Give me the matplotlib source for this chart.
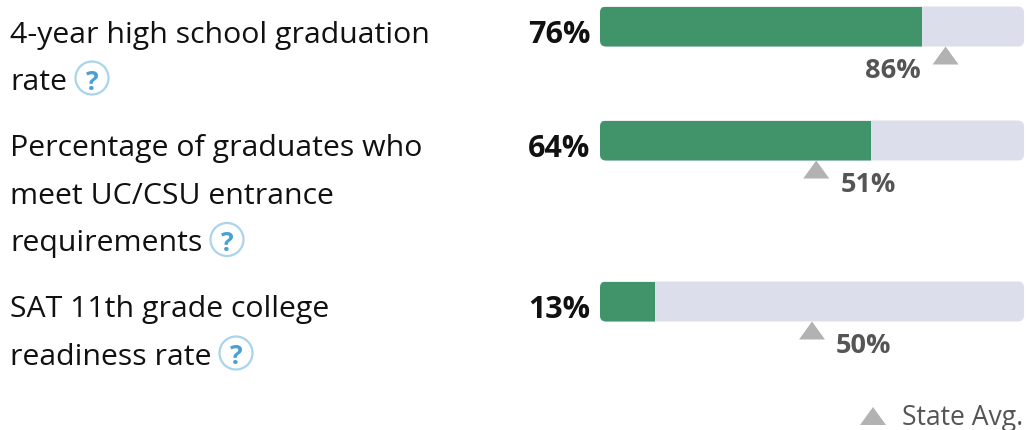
import matplotlib
matplotlib.use('Agg')

import matplotlib.pyplot as plt
from matplotlib.patches import FancyBboxPatch, Rectangle, Polygon, Circle

labels = [
    '4-year high school graduation\nrate',
    'Percentage of graduates who\nmeet UC/CSU entrance\nrequirements',
    'SAT 11th grade college\nreadiness rate',
]
school_values = [76, 64, 13]
state_values = [86, 51, 50]

GREEN = '#41936a'
TRACK = '#dcdeeb'
MARKER = '#b2b2b2'
LABEL_GREY = '#555555'
FONT = 'Open Sans'

BAR_LEFT = 600
BAR_WIDTH = 424
BAR_HEIGHT = 40
BAR_TOPS = [7.5, 121.5, 282.5]
LINE_HEIGHT = 47.5
# the marker stops here when the value would not leave room for its label
MARKER_LIMIT = 81.5

fig = plt.figure(figsize=(10.26, 4.31), dpi=100)
ax = fig.add_axes([0, 0, 1, 1])
ax.set_xlim(0, 1026)
ax.set_ylim(431, 0)
ax.axis('off')


def triangle(cx, top):
    ax.add_patch(Polygon([(cx - 13, top + 18), (cx + 13, top + 18), (cx, top)],
                         closed=True, fc=MARKER, ec='none'))


def help_icon(cx, cy):
    ax.add_patch(Circle((cx, cy), 16.5, fc='white', ec='#a9d5ec', lw=1.6))
    ax.text(cx, cy, '?', color='#4a9fd4', fontsize=19, fontweight='bold',
            family=FONT, ha='center', va='center_baseline')


icon_x = [92, 227, 236]

for i in range(len(labels)):
    top = BAR_TOPS[i]
    mid = top + BAR_HEIGHT / 2

    # left hand label, one text per line
    lines = labels[i].split('\n')
    for j, line in enumerate(lines):
        ax.text(10, top + 24 + j * LINE_HEIGHT, line, fontsize=21.8, color='#111111',
                family=FONT, ha='left', va='center_baseline')
    help_icon(icon_x[i], top + 24 + (len(lines) - 1) * LINE_HEIGHT)

    ax.text(590.5, mid + 4, '%d%%' % school_values[i], fontsize=22, fontweight='bold',
            color='#111111', family=FONT, ha='right', va='center_baseline')

    # track, then the green part clipped to the rounded track
    track = FancyBboxPatch((BAR_LEFT + 6, top + 6), BAR_WIDTH - 12, BAR_HEIGHT - 12,
                           boxstyle='round,pad=6,rounding_size=6', fc=TRACK, ec='none')
    ax.add_patch(track)
    fill = Rectangle((BAR_LEFT, top), BAR_WIDTH * school_values[i] / 100, BAR_HEIGHT,
                     fc=GREEN, ec='none')
    ax.add_patch(fill)
    fill.set_clip_path(track)

    # state average marker
    pos = BAR_LEFT + BAR_WIDTH * min(state_values[i], MARKER_LIMIT) / 100
    triangle(pos, top + BAR_HEIGHT)
    text = '%d%%' % state_values[i]
    if state_values[i] > MARKER_LIMIT:
        ax.text(pos - 25, top + 61, text, fontsize=19.5, fontweight='bold',
                color=LABEL_GREY, family=FONT, ha='right', va='center_baseline')
    else:
        ax.text(pos + 24, top + 61, text, fontsize=19.5, fontweight='bold',
                color=LABEL_GREY, family=FONT, ha='left', va='center_baseline')

# legend
triangle(873, 408)
ax.text(902, 415, 'State Avg.', fontsize=19.1, color=LABEL_GREY, family=FONT,
        ha='left', va='center_baseline')

fig.savefig('out.png', dpi=100)
